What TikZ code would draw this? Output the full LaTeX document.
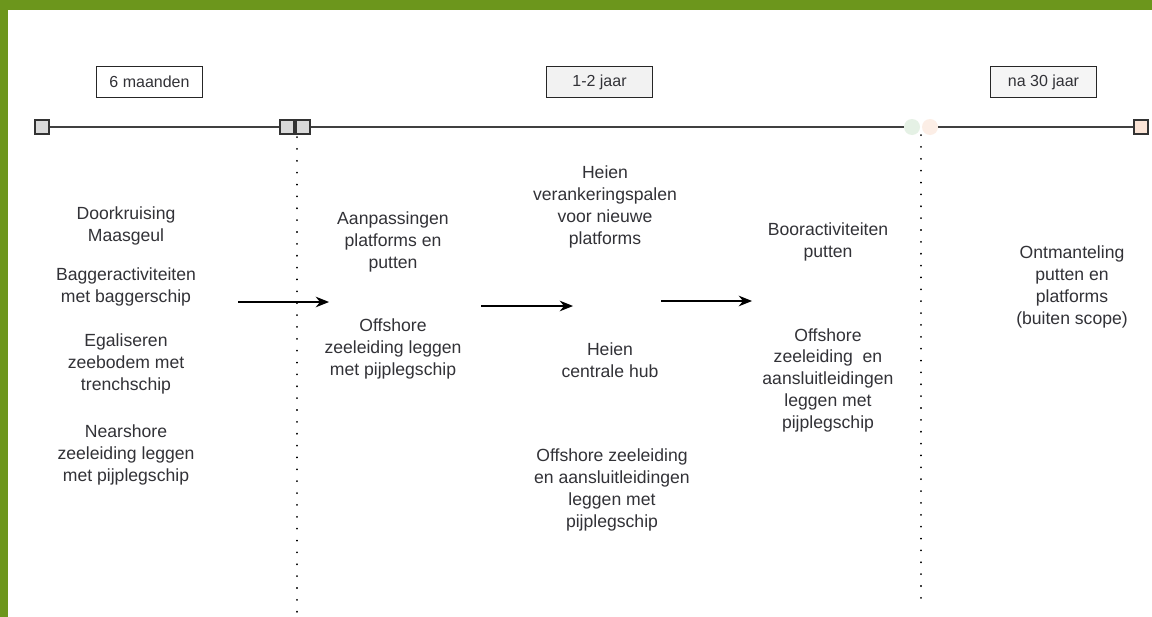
\documentclass[tikz,border=0pt]{standalone}
\usepackage{fontspec}
\setmainfont{Liberation Sans}
\usetikzlibrary{arrows.meta}
\definecolor{frame}{RGB}{108,150,28}
\definecolor{txt}{RGB}{50,50,55}
\definecolor{sqgray}{RGB}{218,218,218}
\definecolor{sqpeach}{RGB}{251,228,214}
\definecolor{fgreen}{RGB}{213,232,212}
\begin{document}
\begin{tikzpicture}[x=0.75pt,y=-0.75pt,
  every node/.style={text=txt},
  task/.style={align=center,font=\fontsize{13.2}{16.3}\selectfont,inner sep=0pt},
  period/.style={draw=black!85,line width=0.9pt,minimum width=80pt,minimum height=23pt,inner sep=0pt,font=\fontsize{12}{14}\selectfont},
  sq/.style={draw=black!80,line width=0.8pt,minimum size=10.5pt,inner sep=0pt},
  tl/.style={draw=black!75,line width=1.1pt},
  sep/.style={line width=1.4pt,dash pattern=on 0.1pt off 8.8pt,line cap=round},
  flow/.style={line width=0.9pt,-{Stealth[length=10pt,width=8pt]}}]
\useasboundingbox (0,0) rectangle (1152,617);
\fill[white] (0,0) rectangle (1152,617);
\fill[frame] (0,0) rectangle (1152,10);
\fill[frame] (0,0) rectangle (8,617);

% period labels
\node[period,fill=white] (p1) at (149.5,82) {6 maanden};
\node[period,fill=black!5] (p2) at (599.5,82) {1-2 jaar};
\node[period,fill=black!4] (p3) at (1043.5,82) {na 30 jaar};

% timeline
\node[sq,fill=sqgray] (s0) at (42,127) {};
\node[sq,fill=sqgray] (s1) at (287,127) {};
\node[sq,fill=sqgray] (s2) at (303,127) {};
\node[circle,fill=fgreen,opacity=0.6,minimum size=12pt,inner sep=0pt] (s3) at (912,127) {};
\node[circle,fill=sqpeach,opacity=0.6,minimum size=12pt,inner sep=0pt] (s4) at (930,127) {};
\node[sq,fill=sqpeach] (s5) at (1141,127) {};
\draw[tl] (s0) -- (s1);
\draw[tl] (s2) -- (s3);
\draw[tl] (s4) -- (s5);

% separators
\coordinate (d1a) at (297,137);
\coordinate (d1b) at (297,617);
\coordinate (d2a) at (921,135);
\coordinate (d2b) at (921,606);
\draw[sep] (d1a) -- (d1b);
\draw[sep] (d2a) -- (d2b);

% column 1
\node[task] (c1a) at (126,226) {Doorkruising\\Maasgeul};
\node[task] (c1b) at (126,287) {Baggeractiviteiten\\met baggerschip};
\node[task] (c1c) at (126,364) {Egaliseren\\zeebodem met\\trenchschip};
\node[task] (c1d) at (126,455) {Nearshore\\zeeleiding leggen\\met pijplegschip};

% column 2
\node[task] (c2a) at (393,242) {Aanpassingen\\platforms en\\putten};
\node[task] (c2b) at (393,349) {Offshore\\zeeleiding leggen\\met pijplegschip};

% column 3
\node[task] (c3a) at (605,207) {Heien\\verankeringspalen\\voor nieuwe\\platforms};
\node[task] (c3b) at (610,360) {Heien\\centrale hub};
\node[task] (c3c) at (612,490) {Offshore zeeleiding\\en aansluitleidingen\\leggen met\\pijplegschip};

% column 4
\node[task] (c4a) at (828,242) {Booractiviteiten\\putten};
\node[task] (c4b) at (828,380) {Offshore\\zeeleiding\ \ en\\aansluitleidingen\\leggen met\\pijplegschip};

% column 5
\node[task] (c5a) at (1072,287) {Ontmanteling\\putten en\\platforms\\(buiten scope)};

% arrows
\coordinate (a1s) at (238,302);
\coordinate (a1e) at (329,302);
\coordinate (a2s) at (481,306);
\coordinate (a2e) at (573,306);
\coordinate (a3s) at (661,301);
\coordinate (a3e) at (752,301);
\draw[flow] (a1s) -- (a1e);
\draw[flow] (a2s) -- (a2e);
\draw[flow] (a3s) -- (a3e);
\end{tikzpicture}
\end{document}
